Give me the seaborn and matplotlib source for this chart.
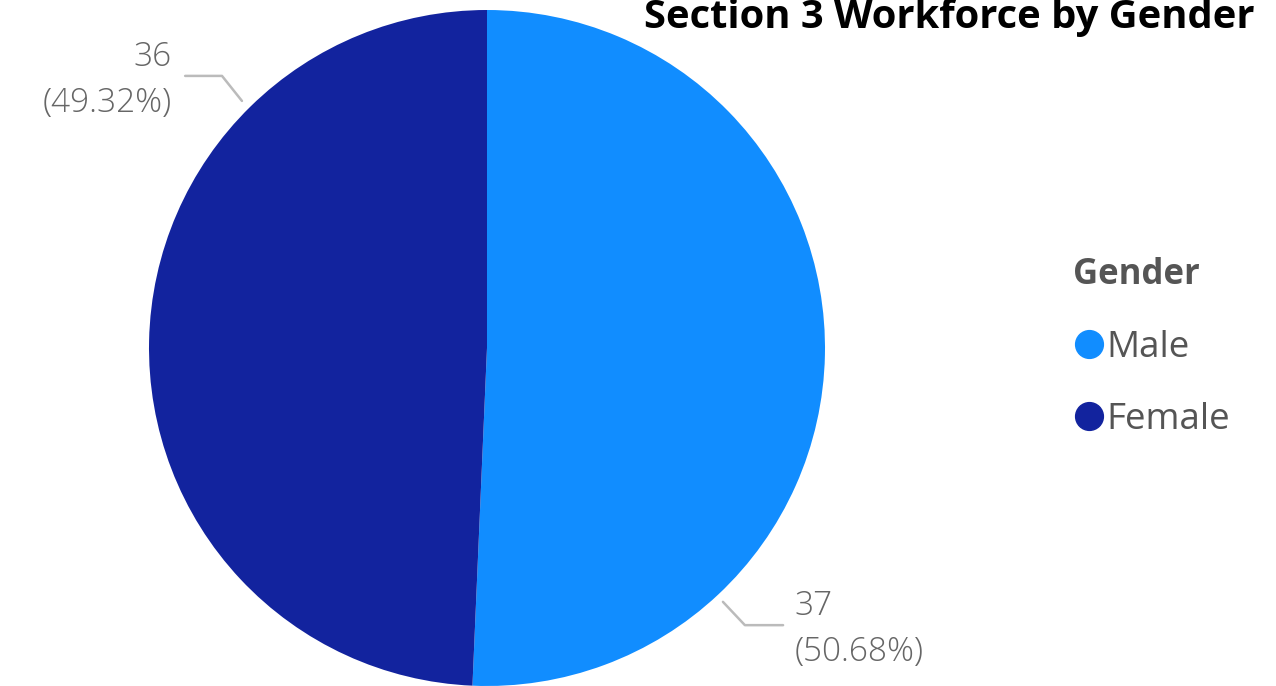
import matplotlib
matplotlib.use("Agg")
import matplotlib.pyplot as plt
from matplotlib.lines import Line2D
import seaborn as sns

genders = ["Male", "Female"]
counts = [37, 36]
percents = ["50.68%", "49.32%"]
colors = ["#118DFF", "#12239E"]
title = "Section 3 Workforce by Gender"
legend_title = "Gender"

sns.set_theme(style="white")
plt.rcParams["font.family"] = ["Open Sans", "DejaVu Sans"]

W, H = 1276, 686
fig = plt.figure(figsize=(W / 100, H / 100), dpi=100)
cx, cy, r = 487, 348, 338
ax = fig.add_axes([(cx - r) / W, (H - cy - r) / H, 2 * r / W, 2 * r / H])
ax.pie(counts, colors=colors, startangle=90, counterclock=False,
       wedgeprops=dict(linewidth=0), radius=1.0)
ax.set_xlim(-1, 1)
ax.set_ylim(-1, 1)
ax.set_aspect("equal")
ax.axis("off")

txt_col = "#666666"
line_col = "#BBBBBB"
# Female label (upper left)
ax.plot([-0.725, -0.784, -0.893], [0.731, 0.805, 0.805], color=line_col, lw=1.8, clip_on=False)
ax.text(-0.932, 0.793, f"{counts[1]}\n({percents[1]})", ha="right", va="center",
        color=txt_col, fontsize=24, linespacing=1.5, fontweight="light")
# Male label (lower right)
ax.plot([0.698, 0.763, 0.876], [-0.751, -0.820, -0.820], color=line_col, lw=1.8, clip_on=False)
ax.text(0.911, -0.833, f"{counts[0]}\n({percents[0]})", ha="left", va="center",
        color=txt_col, fontsize=24, linespacing=1.5, fontweight="light")

handles = [Line2D([], [], marker="o", linestyle="none", markersize=20,
                  markerfacecolor=c, markeredgecolor=c) for c in colors]
leg = fig.legend(handles, genders, title=legend_title, loc="upper left",
                 bbox_to_anchor=(1047 / W, 1 - 231 / H), frameon=False,
                 fontsize=26.5, title_fontproperties=dict(size=25, weight="bold"),
                 handletextpad=0.0, labelspacing=1.0, alignment="left",
                 handlelength=0.9, borderpad=0.2)
for t in leg.get_texts():
    t.set_color("#555555")
leg.get_title().set_color("#555555")

fig.text(1255 / W, 1 - 28 / H, title, ha="right", va="baseline",
         fontsize=28.7, fontweight="bold", color="black")

fig.savefig("out.png", dpi=100)
